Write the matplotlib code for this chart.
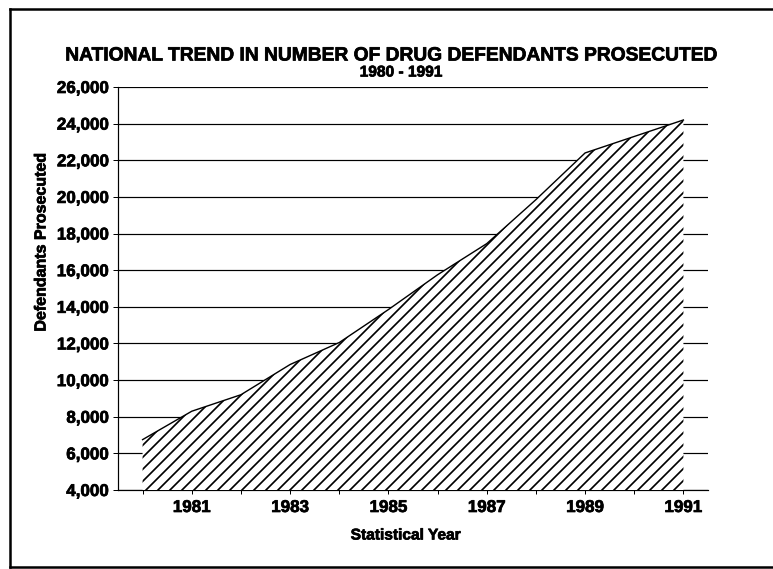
import matplotlib
matplotlib.use('Agg')
import matplotlib.pyplot as plt
import matplotlib.patheffects as pe
from matplotlib.lines import Line2D

############################# data ##################################

years = [1980, 1981, 1982, 1983, 1984, 1985, 1986, 1987, 1988, 1989, 1990, 1991]
defendants = [6750, 8300, 9200, 10850, 12050, 13850, 15750, 17450, 19850, 22400, 23300, 24200]

year_labels = ['1981', '1983', '1985', '1987', '1989', '1991']
y_ticks = [4000, 6000, 8000, 10000, 12000, 14000, 16000, 18000, 20000, 22000, 24000, 26000]

title = 'NATIONAL TREND IN NUMBER OF DRUG DEFENDANTS PROSECUTED'
subtitle = '1980 - 1991'

############################# style ##################################

DPI = 72   # 1 pt == 1 px
W, H = 773, 569

plt.rcParams['font.family'] = ['Liberation Sans', 'DejaVu Sans']
plt.rcParams['font.weight'] = 'bold'
plt.rcParams['hatch.linewidth'] = 1.7

# slightly heavier lettering
heavy = [pe.withStroke(linewidth=0.7, foreground='black')]

fig = plt.figure(figsize=(W / DPI, H / DPI), dpi=DPI)
fig.patch.set_facecolor('white')

# axes box in pixels: left 118, right 708, top 87, bottom 490
ax = fig.add_axes([118 / W, 1 - 490 / H, (708 - 118) / W, (490 - 87) / H])

ax.fill_between(years, defendants, 4000, facecolor='white', edgecolor='black',
                hatch='//', linewidth=0, zorder=3)
ax.plot(years, defendants, color='black', lw=1.4, zorder=4)

ax.set_xlim(1979.5, 1991.5)
ax.set_ylim(4000, 26000)

ax.set_yticks(y_ticks)
ax.set_yticklabels(['{:,}'.format(v) for v in y_ticks], fontsize=17, fontweight='bold')
ax.set_xticks(years)
ax.set_xticklabels([str(y) if str(y) in year_labels else '' for y in years],
                   fontsize=17, fontweight='bold')
for lbl in ax.get_xticklabels() + ax.get_yticklabels():
    lbl.set_path_effects(heavy)

ax.yaxis.grid(True, color='black', lw=1.2)
ax.set_axisbelow(True)
ax.tick_params(axis='y', direction='out', length=5, width=1, pad=4, colors='black')
ax.tick_params(axis='x', direction='out', length=4, width=1, pad=6, colors='black')

for side in ['top', 'right']:
    ax.spines[side].set_visible(False)
ax.spines['left'].set_linewidth(1.2)
ax.spines['bottom'].set_linewidth(1.2)

############################# text ##################################

fig.text(392 / W, 1 - 56 / H, title, ha='center', va='center',
         fontsize=19.2, fontweight='bold', path_effects=heavy)
fig.text(401 / W, 1 - 72 / H, subtitle, ha='center', va='center',
         fontsize=15.5, fontweight='bold', path_effects=heavy)
fig.text(406 / W, 1 - 535 / H, 'Statistical Year', ha='center', va='center',
         fontsize=15.5, fontweight='bold', path_effects=heavy)
fig.text(41 / W, 1 - 242 / H, 'Defendants Prosecuted', ha='center', va='center',
         rotation=90, fontsize=16, fontweight='bold', path_effects=heavy)

# outer frame (right side runs off the page)
frame = dict(color='black', lw=2.5, transform=fig.transFigure)
fig.add_artist(Line2D([10 / W, 10 / W], [1 - 9 / H, 1 - 567 / H], **frame))
fig.add_artist(Line2D([10 / W, 1.0], [1 - 9 / H, 1 - 9 / H], **frame))
fig.add_artist(Line2D([10 / W, 1.0], [1 - 567 / H, 1 - 567 / H], **frame))

plt.savefig('out.png', dpi=DPI)
